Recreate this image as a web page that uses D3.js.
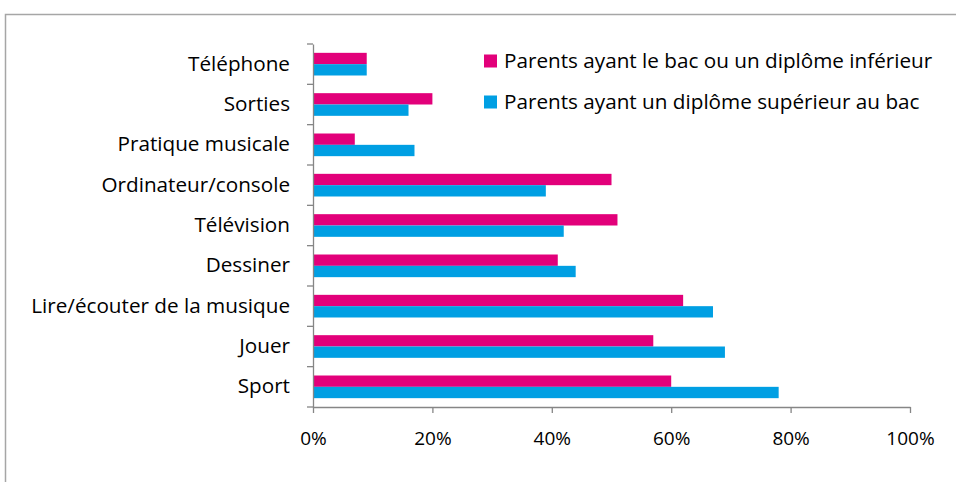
<!DOCTYPE html>
<html>
<head>
<meta charset="utf-8">
<script src="https://cdn.jsdelivr.net/npm/d3@7"></script>
<style>
  html, body { margin: 0; padding: 0; background: #fff; }
  svg { display: block; }
  text { font-family: "Open Sans", Lato, sans-serif; fill: #000; }
</style>
</head>
<body>
<svg id="chart" width="956" height="482"></svg>
<script>
// Activités des enfants selon le diplôme des parents
const categories = ["Téléphone", "Sorties", "Pratique musicale", "Ordinateur/console",
  "Télévision", "Dessiner", "Lire/écouter de la musique", "Jouer", "Sport"];
const seriesNames = ["Parents ayant le bac ou un diplôme inférieur",
  "Parents ayant un diplôme supérieur au bac"];
const bacOuInferieur = [9, 20, 7, 50, 51, 41, 62, 57, 60];
const superieurAuBac = [9, 16, 17, 39, 42, 44, 67, 69, 78];
const xTicks = [0, 20, 40, 60, 80, 100];
const colors = ["#E2007A", "#009FE3"];

const svg = d3.select("#chart");
const W = 956, H = 482;
const plot = { left: 313, right: 910, top: 44, bottom: 407 };
const fontFamily = "'Open Sans', Lato, sans-serif";
const labelSize = 20.7;
const tickSize = 19;

// outer frame
svg.append("rect")
  .attr("x", 5.5).attr("y", 14.5)
  .attr("width", W + 10).attr("height", H + 10)
  .attr("fill", "none").attr("stroke", "#a6a6a6").attr("stroke-width", 1.5);

const x = d3.scaleLinear().domain([0, 100]).range([plot.left, plot.right]);
const y = d3.scaleBand().domain(categories).range([plot.top, plot.bottom]).padding(0);
const ySeries = d3.scaleBand().domain([0, 1]).range([0, y.bandwidth()])
  .paddingInner(0).paddingOuter(0.78);

const rows = categories.map((c, i) => ({ cat: c, vals: [bacOuInferieur[i], superieurAuBac[i]] }));

const g = svg.append("g");
const groups = g.selectAll("g.row").data(rows).enter().append("g")
  .attr("transform", d => `translate(0,${y(d.cat)})`);
groups.selectAll("rect").data(d => d.vals.map((v, k) => ({ v, k }))).enter().append("rect")
  .attr("x", x(0))
  .attr("y", d => ySeries(d.k))
  .attr("width", d => x(d.v) - x(0))
  .attr("height", ySeries.bandwidth())
  .attr("fill", d => colors[d.k]);

// axes
const axisColor = "#868686";
const xAxis = svg.append("g").attr("transform", `translate(0,${plot.bottom})`)
  .call(d3.axisBottom(x).tickValues(xTicks).tickFormat(d => d + "%").tickSize(6).tickSizeOuter(0).tickPadding(19));
const yAxis = svg.append("g").attr("transform", `translate(${plot.left},0)`)
  .call(d3.axisLeft(y).tickSize(0).tickPadding(23));

// category boundary ticks on the vertical axis
yAxis.selectAll("line.bound")
  .data(d3.range(categories.length + 1)).enter().append("line")
  .attr("class", "bound")
  .attr("x1", -6).attr("x2", 0)
  .attr("y1", i => plot.top + i * y.step())
  .attr("y2", i => plot.top + i * y.step());

[xAxis, yAxis].forEach(a => {
  a.selectAll("path.domain, line").attr("stroke", axisColor).attr("stroke-width", 1.3);
  a.selectAll("text").attr("font-family", fontFamily).attr("fill", "#000");
});
xAxis.selectAll("text").attr("font-size", tickSize);
yAxis.selectAll("text").attr("font-size", labelSize);

// legend
const legend = svg.append("g");
const legendRows = seriesNames.map((n, k) => ({ n, k }));
const lg = legend.selectAll("g").data(legendRows).enter().append("g")
  .attr("transform", d => `translate(484,${61 + d.k * 41})`);
lg.append("rect").attr("x", 0).attr("y", -6.5).attr("width", 13).attr("height", 13)
  .attr("fill", d => colors[d.k]);
lg.append("text").attr("x", 20).attr("y", 0).attr("dy", "0.35em")
  .attr("font-family", fontFamily).attr("font-size", labelSize).text(d => d.n);
</script>
</body>
</html>
